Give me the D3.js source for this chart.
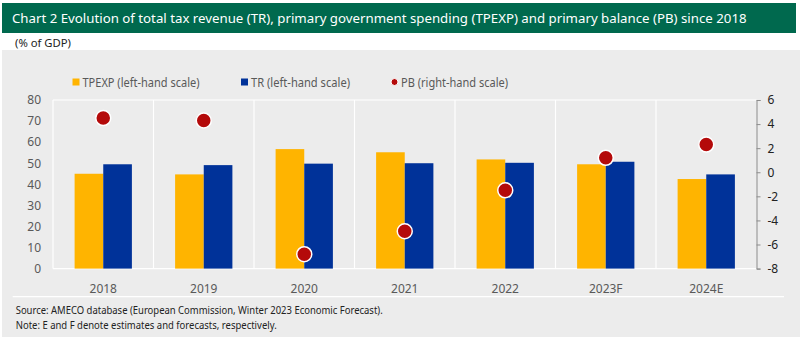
<!DOCTYPE html>
<html><head><meta charset="utf-8">
<script src="https://cdn.jsdelivr.net/npm/d3@7"></script>
<style>body{margin:0;background:#fff}svg{display:block}text{font-family:"Noto Sans",sans-serif}</style>
</head><body><svg id="c" width="800" height="341"></svg>
<script>
const categories = ["2018","2019","2020","2021","2022","2023F","2024E"];
const tpexp = [45.0, 44.7, 56.7, 55.2, 51.8, 49.5, 42.5];
const tr = [49.5, 49.1, 49.8, 50.0, 50.2, 50.7, 44.7];
const pb = [4.5, 4.3, -6.8, -4.9, -1.5, 1.2, 2.3];
const leftTicks = [0,10,20,30,40,50,60,70,80];
const rightTicks = [-8,-6,-4,-2,0,2,4,6];
const seriesNames = ["TPEXP (left-hand scale)", "TR (left-hand scale)", "PB (right-hand scale)"];
const colors = {tpexp:"#FFB400", tr:"#003299", pb:"#B40A0A"};

const svg = d3.select("#c");
// header
svg.append("rect").attr("x",2).attr("y",3).attr("width",794).attr("height",30).attr("fill","#00694E");
const title = svg.append("text").attr("x",12).attr("y",23).attr("fill","#fff")
  .attr("font-family","'Liberation Sans Narrow','Noto Sans',sans-serif").attr("font-size",15)
  .text("Chart 2 Evolution of total tax revenue (TR), primary government spending (TPEXP)  and primary balance (PB) since 2018");
{
  const len = title.node().getComputedTextLength();
  const fs = Math.min(15, 15 * 735 / len);
  title.attr("font-size", fs.toFixed(2));
}
svg.append("text").attr("x",15).attr("y",47).attr("fill","#222").attr("font-size",11.5)
  .attr("textLength",56).attr("lengthAdjust","spacingAndGlyphs").text("(% of GDP)");
// panel
svg.append("rect").attr("x",2).attr("y",50).attr("width",798).attr("height",287).attr("fill","#ECECEC");

const L=53, R=756.5, T=100, B=268.6;
const x0 = d3.scaleBand().domain(categories).range([L,R]).paddingInner(0.43).paddingOuter(0.215);
const x1 = d3.scaleBand().domain(["tpexp","tr"]).range([0,x0.bandwidth()]);
const yL = d3.scaleLinear().domain([0,80]).range([B,T]);
const yR = d3.scaleLinear().domain([-8,6]).range([B,T]);
const step = x0.step();

// grid: white boundaries
const g = svg.append("g");
g.append("line").attr("x1",L).attr("x2",R).attr("y1",T).attr("y2",T).attr("stroke","#fff").attr("stroke-width",1.2);
g.append("line").attr("x1",L).attr("x2",R).attr("y1",B).attr("y2",B).attr("stroke","#fff").attr("stroke-width",1.2);
g.selectAll("line.v").data(d3.range(categories.length)).join("line").attr("class","v")
  .attr("x1",i=>L+i*step).attr("x2",i=>L+i*step).attr("y1",T).attr("y2",B)
  .attr("stroke","#fff").attr("stroke-width",1.2);

// bars
const bars = svg.append("g");
categories.forEach((c,i)=>{
  [["tpexp",tpexp[i]],["tr",tr[i]]].forEach(([k,v])=>{
    bars.append("rect").attr("x",x0(c)+x1(k)).attr("width",x1.bandwidth())
      .attr("y",yL(v)).attr("height",yL(0)-yL(v)).attr("fill",colors[k]);
  });
});

// left axis
const la = svg.append("g").attr("transform",`translate(${L},0)`)
  .call(d3.axisLeft(yL).tickValues(leftTicks).tickFormat(d=>String(d)).tickSize(0).tickPadding(12));
la.select(".domain").remove();
la.selectAll("text").attr("fill","#595959").attr("font-size",12).attr("font-family","Noto Sans, sans-serif");

// right axis
const ra = svg.append("g").attr("transform",`translate(${R},0)`)
  .call(d3.axisRight(yR).tickValues(rightTicks).tickFormat(d=>String(d)).tickSize(4).tickPadding(7).tickSizeOuter(4));
ra.select(".domain").attr("stroke","#8c8c8c");
ra.selectAll(".tick line").attr("stroke","#8c8c8c");
ra.selectAll("text").attr("fill","#222").attr("font-size",12).attr("font-family","Noto Sans, sans-serif");

// x labels
const xa = svg.append("g").attr("transform",`translate(0,${B})`)
  .call(d3.axisBottom(x0).tickSize(0).tickPadding(16));
xa.select(".domain").remove();
xa.selectAll("text").attr("fill","#595959").attr("font-size",12).attr("font-family","Noto Sans, sans-serif");

// PB dots
svg.append("g").selectAll("circle").data(categories).join("circle")
  .attr("cx",c=>x0(c)+x0.bandwidth()/2).attr("cy",(c,i)=>yR(pb[i]))
  .attr("r",7.5).attr("fill",colors.pb).attr("stroke","#fff").attr("stroke-width",1.5);

// legend
const lg = svg.append("g").attr("font-size",12).attr("fill","#595959");
lg.append("rect").attr("x",72.5).attr("y",78.5).attr("width",7).attr("height",7).attr("fill",colors.tpexp);
lg.append("text").attr("x",82.5).attr("y",86.5).attr("textLength",117).attr("lengthAdjust","spacingAndGlyphs").text(seriesNames[0]);
lg.append("rect").attr("x",241).attr("y",78.5).attr("width",7).attr("height",7).attr("fill",colors.tr);
lg.append("text").attr("x",251).attr("y",86.5).attr("textLength",99).attr("lengthAdjust","spacingAndGlyphs").text(seriesNames[1]);
lg.append("circle").attr("cx",394.5).attr("cy",82).attr("r",3.5).attr("fill",colors.pb).attr("stroke","#fff").attr("stroke-width",1);
lg.append("text").attr("x",401).attr("y",86.5).attr("textLength",107).attr("lengthAdjust","spacingAndGlyphs").text(seriesNames[2]);

// separator line and notes
svg.append("line").attr("x1",12.7).attr("x2",784).attr("y1",296.7).attr("y2",296.7).attr("stroke","#fff").attr("stroke-width",1.2);
svg.append("text").attr("x",15.7).attr("y",314).attr("font-size",10.5).attr("fill","#222")
  .attr("textLength",367).attr("lengthAdjust","spacingAndGlyphs")
  .text("Source: AMECO database (European Commission, Winter 2023 Economic Forecast).");
svg.append("text").attr("x",15.7).attr("y",328.5).attr("font-size",10.5).attr("fill","#222")
  .attr("textLength",261).attr("lengthAdjust","spacingAndGlyphs")
  .text("Note: E and F denote estimates and forecasts, respectively.");
</script></body></html>
